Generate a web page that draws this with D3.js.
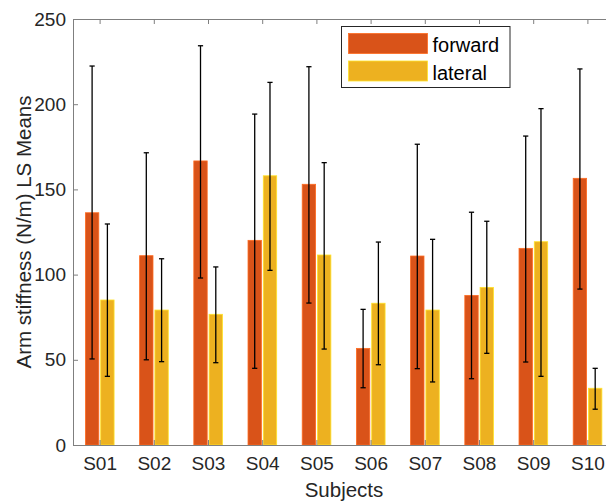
<!DOCTYPE html>
<html>
<head>
<meta charset="utf-8">
<script src="https://cdn.jsdelivr.net/npm/d3@7"></script>
<style>
  html, body { margin: 0; padding: 0; background: #fff; }
  svg { display: block; font-family: "Liberation Sans", Arial, Helvetica, sans-serif; }
  .axis path, .axis line { stroke: #7f7f7f; stroke-width: 1; }
  .axis text { fill: #262626; font-size: 19px; }
</style>
</head>
<body>
<svg id="chart"></svg>
<script>
'use strict';

// ── Data ───────────────────────────────────────────────────────────────────
const subjects   = ['S01', 'S02', 'S03', 'S04', 'S05', 'S06', 'S07', 'S08', 'S09', 'S10'];
const seriesNames = ['forward', 'lateral'];

const forward    = [136.3, 111.1, 166.7, 120.1, 153.0, 56.7, 110.9, 87.8, 115.4, 156.5];
const forwardLo  = [ 50.5,  50.0,  98.0,  45.0,  83.3, 33.6,  44.8, 38.9,  48.7,  91.5];
const forwardHi  = [222.4, 171.5, 234.3, 194.2, 222.0, 79.6, 176.5, 136.6, 181.3, 220.7];

const lateral    = [ 85.1,  79.2,  76.7, 158.0, 111.5, 83.2,  79.2, 92.5, 119.3,  33.3];
const lateralLo  = [ 40.3,  48.9,  48.3, 102.5,  56.3, 47.1,  37.0, 53.8,  40.3,  21.0];
const lateralHi  = [129.7, 109.3, 104.5, 212.8, 165.7, 119.1, 120.7, 131.3, 197.4, 45.0];

const yTicks = [0, 50, 100, 150, 200, 250];

// ── Layout ─────────────────────────────────────────────────────────────────
const width = 606, height = 502;
const plot  = { left: 73, right: 615, top: 19, bottom: 445 };
const COLORS = { forward: '#D95319', lateral: '#EDB120' };

const svg = d3.select('#chart').attr('width', width).attr('height', height);
svg.append('rect').attr('width', width).attr('height', height).attr('fill', '#fff');

// ── Scales ─────────────────────────────────────────────────────────────────
const x0 = d3.scaleBand().domain(subjects).range([plot.left, plot.right]).padding(0);
const x1 = d3.scaleBand().domain(seriesNames)
  .range([x0.bandwidth() * 0.229, x0.bandwidth() * 0.758])
  .paddingInner(0.124);
const y  = d3.scaleLinear().domain([0, 250]).range([plot.bottom, plot.top]);

const rows = [];
subjects.forEach((s, i) => {
  rows.push({ subject: s, series: 'forward', value: forward[i], lo: forwardLo[i], hi: forwardHi[i] });
  rows.push({ subject: s, series: 'lateral', value: lateral[i], lo: lateralLo[i], hi: lateralHi[i] });
});

// ── Bars ───────────────────────────────────────────────────────────────────
svg.append('g').selectAll('rect')
  .data(rows).join('rect')
  .attr('x', d => x0(d.subject) + x1(d.series))
  .attr('y', d => y(d.value))
  .attr('width', x1.bandwidth())
  .attr('height', d => y(0) - y(d.value))
  .attr('fill', d => COLORS[d.series])
  .attr('stroke', d => d3.color(COLORS[d.series]).brighter(0.7))
  .attr('stroke-width', 0.8);

// ── Error bars ─────────────────────────────────────────────────────────────
const cx = d => x0(d.subject) + x1(d.series) + x1.bandwidth() / 2;
const cap = 2.6;
const err = svg.append('g').attr('stroke', '#000').attr('stroke-width', 1.3).attr('fill', 'none');
err.selectAll('line.v').data(rows).join('line').attr('class', 'v')
  .attr('x1', cx).attr('x2', cx)
  .attr('y1', d => y(d.lo)).attr('y2', d => y(d.hi));
err.selectAll('line.t').data(rows).join('line').attr('class', 't')
  .attr('x1', d => cx(d) - cap).attr('x2', d => cx(d) + cap)
  .attr('y1', d => y(d.hi)).attr('y2', d => y(d.hi));
err.selectAll('line.b').data(rows).join('line').attr('class', 'b')
  .attr('x1', d => cx(d) - cap).attr('x2', d => cx(d) + cap)
  .attr('y1', d => y(d.lo)).attr('y2', d => y(d.lo));

// ── Axes (box, ticks inward) ───────────────────────────────────────────────
svg.append('g').attr('class', 'axis')
  .attr('transform', `translate(0,${plot.bottom})`)
  .call(d3.axisBottom(x0).tickSizeInner(-5).tickSizeOuter(0).tickPadding(12))
  .call(g => g.selectAll('text').attr('font-size', 19));

svg.append('g').attr('class', 'axis')
  .attr('transform', `translate(0,${plot.top})`)
  .call(d3.axisTop(x0).tickSizeInner(-5).tickSizeOuter(0).tickFormat(''));

svg.append('g').attr('class', 'axis')
  .attr('transform', `translate(${plot.left},0)`)
  .call(d3.axisLeft(y).tickValues(yTicks).tickSizeInner(-5).tickSizeOuter(0).tickPadding(7));

svg.append('g').attr('class', 'axis')
  .attr('transform', `translate(${plot.right},0)`)
  .call(d3.axisRight(y).tickValues(yTicks).tickSizeInner(-5).tickSizeOuter(0).tickFormat(''));

svg.selectAll('.axis text').attr('font-family', null).attr('font-size', null);

// ── Axis labels ────────────────────────────────────────────────────────────
svg.append('text')
  .attr('transform', `translate(31,${(plot.top + plot.bottom) / 2}) rotate(-90)`)
  .attr('text-anchor', 'middle')
  .attr('fill', '#262626')
  .attr('font-size', 20.5)
  .text('Arm stiffness (N/m) LS Means');

svg.append('text')
  .attr('x', (plot.left + plot.right) / 2)
  .attr('y', 496.5)
  .attr('text-anchor', 'middle')
  .attr('fill', '#262626')
  .attr('font-size', 20.5)
  .text('Subjects');

// ── Legend ─────────────────────────────────────────────────────────────────
const legend = svg.append('g').attr('transform', 'translate(341.5,26.5)');
legend.append('rect')
  .attr('width', 168.5).attr('height', 61)
  .attr('fill', '#fff').attr('stroke', '#262626').attr('stroke-width', 1);
seriesNames.forEach((name, i) => {
  const row = legend.append('g').attr('transform', `translate(0,${i * 27.5})`);
  row.append('rect')
    .attr('x', 7).attr('y', 7).attr('width', 79).attr('height', 20)
    .attr('fill', COLORS[name])
    .attr('stroke', d3.color(COLORS[name]).brighter(0.7)).attr('stroke-width', 0.8);
  row.append('text')
    .attr('x', 91).attr('y', 25.5)
    .attr('fill', '#000')
    .attr('font-size', 20)
    .text(name);
});
</script>
</body>
</html>
